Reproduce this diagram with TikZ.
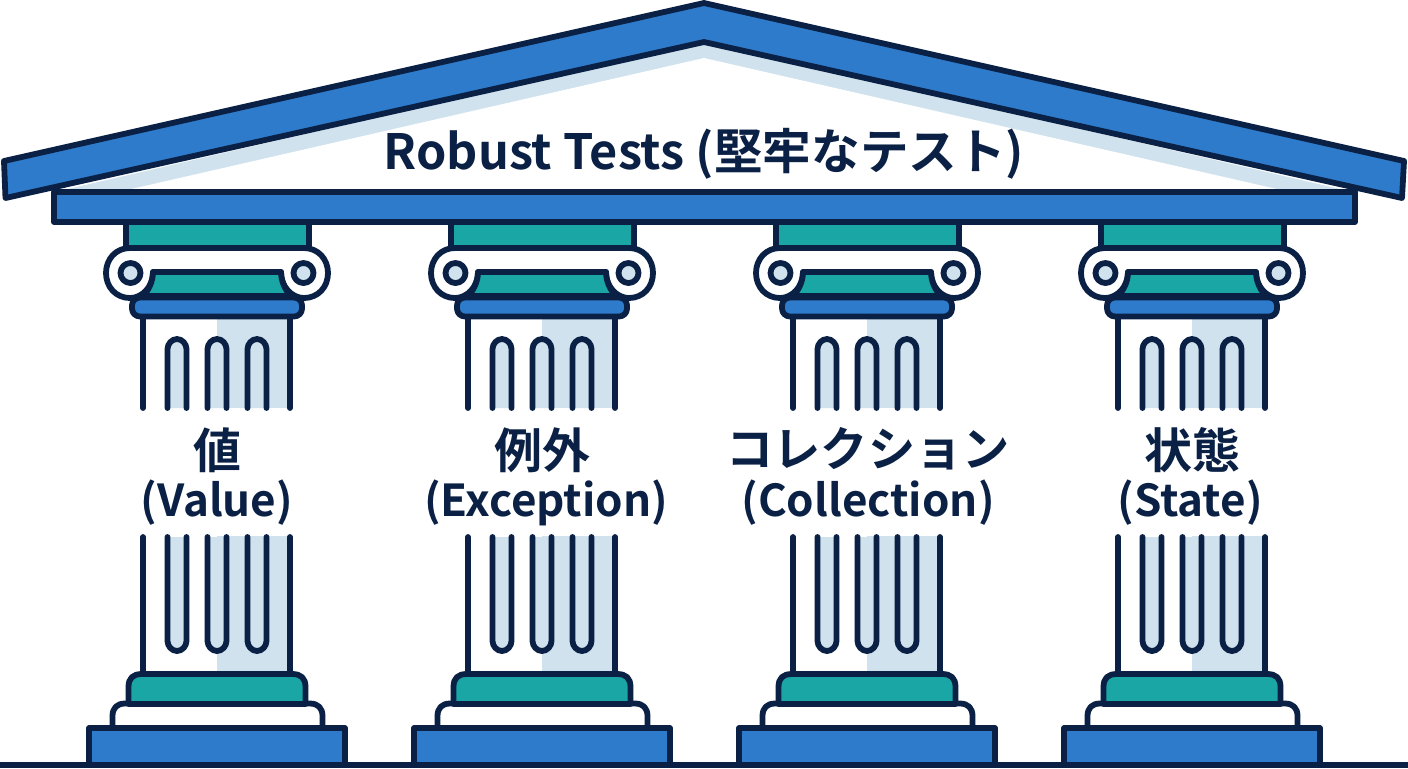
\documentclass[tikz,border=0pt]{standalone}
\usepackage{fontspec}
\newfontfamily\jpb{Noto Sans CJK JP Bold}
\definecolor{ink}{HTML}{0A2145}
\definecolor{bluef}{HTML}{2E7BCB}
\definecolor{tealf}{HTML}{1BA6A6}
\definecolor{lightf}{HTML}{CFE2EE}
\tikzset{
  part/.style={draw=ink,line width=2.9pt,line join=round,line cap=round},
  bluepart/.style={part,fill=bluef},
  tealpart/.style={part,fill=tealf},
  whitepart/.style={part,fill=white},
  lightpart/.style={part,fill=lightf},
  shaftline/.style={draw=ink,line width=2.9pt,line cap=round},
  titletext/.style={text=ink,font=\jpb\fontsize{24.3}{26}\selectfont,inner sep=0pt},
  labeltext/.style={text=ink,font=\jpb\fontsize{22}{26}\selectfont,inner sep=0pt},
  cjktext/.style={text=ink,font=\jpb\fontsize{24}{26}\selectfont,inner sep=0pt},
}
\newcommand{\fluteup}[1]{%
  \draw[lightpart] (#1,408) -- (#1,349) .. controls (#1,344) and ({#1+4.3},339) .. ({#1+9.5},339) .. controls ({#1+14.7},339) and ({#1+19},344) .. ({#1+19},349) -- ({#1+19},408);}
\newcommand{\flutedown}[1]{%
  \draw[lightpart] (#1,537) -- (#1,641) .. controls (#1,646) and ({#1+4.3},651) .. ({#1+9.5},651) .. controls ({#1+14.7},651) and ({#1+19},646) .. ({#1+19},641) -- ({#1+19},537);}
\begin{document}
\begin{tikzpicture}[x=0.5pt,y=-0.5pt]
\useasboundingbox (0,0) rectangle (1408,768);
\fill[white] (0,0) rectangle (1408,768);
% gable
\fill[lightf] (55,192) -- (704,42) -- (1353,192) -- cycle;
\fill[white] (127,190) -- (704,58) -- (1281,190) -- cycle;
% ground
\draw[draw=ink,line width=2.9pt] (0,765) -- (1408,765);
% beam
\draw[bluepart] (54,192) rectangle (1355,222);
% columns
\foreach \dx in {0,325,650,975}{
\begin{scope}[shift={(\dx,0)}]
  \draw[tealpart] (126,222) rectangle (309,248);
  % shaft shading
  \fill[lightf] (217,316) rectangle (290,408);
  \fill[lightf] (217,536) rectangle (290,674);
  \draw[shaftline] (143,316) -- (143,408);
  \draw[shaftline] (290,316) -- (290,408);
  \draw[shaftline] (143,537) -- (143,674);
  \draw[shaftline] (290,537) -- (290,674);
  \fluteup{167.5}\fluteup{207.5}\fluteup{247.5}
  \flutedown{167.5}\flutedown{207.5}\flutedown{247.5}
  % volute
  \draw[whitepart] (130,248) -- (304,248)
    .. controls (318,248) and (328,259) .. (328,273)
    .. controls (328,287) and (318,298) .. (304,298)
    .. controls (292,298) and (281,287) .. (281,272)
    -- (153,272)
    .. controls (153,287) and (142,298) .. (130,298)
    .. controls (116,298) and (106,287) .. (106,273)
    .. controls (106,259) and (116,248) .. (130,248) -- cycle;
  \draw[tealpart] (153,272) -- (281,272) .. controls (281,281) and (285,290) .. (291,296) -- (143,296) .. controls (149,290) and (153,281) .. (153,272) -- cycle;
  \draw[lightpart] (130.5,273) circle (10);
  \draw[lightpart] (303.5,273) circle (10);
  \draw[bluepart,rounded corners=4pt] (132,297.5) rectangle (302,316.5);
  % base
  \draw[whitepart] (112.5,729) -- (112.5,716) .. controls (112.5,708) and (117,703.5) .. (125,703.5) -- (310,703.5) .. controls (318,703.5) and (322.5,708) .. (322.5,716) -- (322.5,729);
  \draw[tealpart] (128.5,704) -- (128.5,687) .. controls (128.5,678) and (133,674) .. (142,674) -- (292,674) .. controls (301,674) and (305.5,678) .. (305.5,687) -- (305.5,704) -- cycle;
  \draw[bluepart] (89,728) rectangle (345,765);
\end{scope}}
% roof
\draw[bluepart] (4,161) -- (704,3) -- (1404,161) -- (1402,198) -- (704,42) -- (5.5,198) -- cycle;
% text
\node[titletext] (title) at (704,154) {Robust Tests (堅牢なテスト)};
\node[cjktext] (a1) at (217,450) {値};
\node[labeltext] (a2) at (217,503) {(Value)};
\node[cjktext] (b1) at (542,450) {例外};
\node[labeltext] (b2) at (546,503) {(Exception)};
\node[cjktext,font=\jpb\fontsize{23.6}{26}\selectfont] (c1) at (868,449) {コレクション};
\node[labeltext] (c2) at (868,503) {(Collection)};
\node[cjktext] (d1) at (1192,450) {状態};
\node[labeltext] (d2) at (1190,503) {(State)};
\end{tikzpicture}
\end{document}
